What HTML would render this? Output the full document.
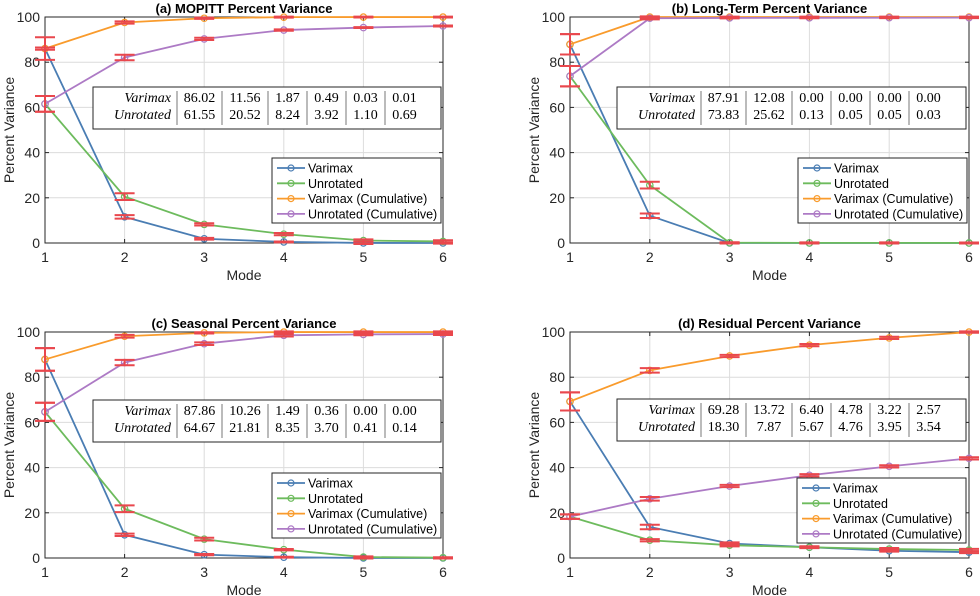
<!DOCTYPE html>
<html><head><meta charset="utf-8">
<style>
body{margin:0;background:#fff;}
svg{display:block;font-family:"Liberation Sans",sans-serif;}
</style></head>
<body>
<svg id="fig" width="980" height="596" viewBox="0 0 980 596"></svg>
<script>
const modes=[1,2,3,4,5,6];
const yTicks=[0,20,40,60,80,100];
const seriesNames=["Varimax","Unrotated","Varimax (Cumulative)","Unrotated (Cumulative)"];
const aVarimax=[86.02,11.56,1.87,0.49,0.03,0.01];
const aUnrot=[61.55,20.52,8.24,3.92,1.10,0.69];
const aErrV=[0.5,0.8,0.4,0.2,0.5,0.3];
const aErrU=[3.5,1.5,0.5,0.5,0.5,0.5];
const aErrVC=[5,0.5,0.3,0.2,0.2,0.2];
const aErrUC=[3.5,1.2,0.5,0.3,0.2,0.2];
const bVarimax=[87.91,12.08,0.00,0.00,0.00,0.00];
const bUnrot=[73.83,25.62,0.13,0.05,0.05,0.03];
const bErrV=[4.5,1,0.2,0.2,0.2,0.2];
const bErrU=[4.5,1.5,0.2,0.2,0.2,0.2];
const bErrVC=[4.5,0.3,0.2,0.2,0.2,0.2];
const bErrUC=[4.5,0.5,0.2,0.2,0.2,0.2];
const cVarimax=[87.86,10.26,1.49,0.36,0.00,0.00];
const cUnrot=[64.67,21.81,8.35,3.70,0.41,0.14];
const cErrV=[5,0.5,0.3,0.2,0.2,0.2];
const cErrU=[4,1.5,0.6,0.3,0.3,0.2];
const cErrVC=[5,0.6,0.3,0.3,0.3,0.3];
const cErrUC=[4,1.2,0.6,0.5,0.4,0.4];
const dVarimax=[69.28,13.72,6.40,4.78,3.22,2.57];
const dUnrot=[18.30,7.87,5.67,4.76,3.95,3.54];
const dErrV=[4,1,0.5,0.4,0.4,0.4];
const dErrU=[1,0.5,0.5,0.3,0.5,0.5];
const dErrVC=[4,1,0.5,0.5,0.5,0.3];
const dErrUC=[1,0.8,0.5,0.5,0.5,0.5];

const colors=["#4a7db3","#6dbb5d","#f99b2c","#ad7ac5"];
const ERR="#e9474d";
const NS="http://www.w3.org/2000/svg";
const svg=document.getElementById("fig");
function el(tag,attrs,parent){const e=document.createElementNS(NS,tag);for(const k in attrs)e.setAttribute(k,attrs[k]);(parent||svg).appendChild(e);return e;}
function cum(a){let s=0;return a.map(v=>s+=v);}

const panels=[
 {key:"a",title:"(a) MOPITT Percent Variance",x0:45,x1:443,y0:17,y1:243,v:aVarimax,u:aUnrot,ev:[aErrV,aErrU,aErrVC,aErrUC],leg:[272,158],tab:[93,87]},
 {key:"b",title:"(b) Long-Term Percent Variance",x0:570,x1:969,y0:17,y1:243,v:bVarimax,u:bUnrot,ev:[bErrV,bErrU,bErrVC,bErrUC],leg:[798,158],tab:[617,87]},
 {key:"c",title:"(c) Seasonal Percent Variance",x0:45,x1:443,y0:332,y1:558,v:cVarimax,u:cUnrot,ev:[cErrV,cErrU,cErrVC,cErrUC],leg:[272,473],tab:[93,400]},
 {key:"d",title:"(d) Residual Percent Variance",x0:570,x1:969,y0:332,y1:558,v:dVarimax,u:dUnrot,ev:[dErrV,dErrU,dErrVC,dErrUC],leg:[797,478],tab:[617,399]}
];

panels.forEach(p=>{
 const g=el("g",{});
 
 
 const sx=m=>p.x0+(m-1)/(5)*(p.x1-p.x0);
 const sy=v=>p.y1-v/100*(p.y1-p.y0);
 el("rect",{x:p.x0,y:p.y0,width:p.x1-p.x0,height:p.y1-p.y0,fill:"#fff"},g);
 modes.forEach(m=>{el("line",{x1:sx(m),x2:sx(m),y1:p.y0,y2:p.y1,stroke:"#dcdcdc","stroke-width":1},g);});
 yTicks.forEach(t=>{el("line",{x1:p.x0,x2:p.x1,y1:sy(t),y2:sy(t),stroke:"#dcdcdc","stroke-width":1},g);});
 el("rect",{x:p.x0,y:p.y0,width:p.x1-p.x0,height:p.y1-p.y0,fill:"none",stroke:"#262626","stroke-width":1},g);
 modes.forEach(m=>{
  el("line",{x1:sx(m),x2:sx(m),y1:p.y1,y2:p.y1-4,stroke:"#262626"},g);
  el("line",{x1:sx(m),x2:sx(m),y1:p.y0,y2:p.y0+4,stroke:"#262626"},g);
  const t=el("text",{x:sx(m),y:p.y1+19,"text-anchor":"middle","font-size":14,fill:"#262626"},g);t.textContent=m;
  
  
 });
 yTicks.forEach(v=>{
  el("line",{x1:p.x0,x2:p.x0+4,y1:sy(v),y2:sy(v),stroke:"#262626"},g);
  el("line",{x1:p.x1,x2:p.x1-4,y1:sy(v),y2:sy(v),stroke:"#262626"},g);
  const t=el("text",{x:p.x0-5,y:sy(v)+5,"text-anchor":"end","font-size":14,fill:"#262626"},g);t.textContent=v;
  
  
 });
 const tt=el("text",{x:(p.x0+p.x1)/2,y:p.y0-4,"text-anchor":"middle","font-size":13,"font-weight":"bold",fill:"#000"},g);tt.textContent=p.title;
 
 
 const xl=el("text",{x:(p.x0+p.x1)/2,y:p.y1+37,"text-anchor":"middle","font-size":14,fill:"#262626"},g);xl.textContent="Mode";
 
 
 const yx=p.x0-31, yy=(p.y0+p.y1)/2;
 const yl=el("text",{x:yx,y:yy,"text-anchor":"middle","font-size":14,fill:"#262626",transform:`rotate(-90 ${yx} ${yy})`},g);yl.textContent="Percent Variance";
 
 

 const series=[p.v,p.u,cum(p.v),cum(p.u)];
 series.forEach((s,i)=>{
  const pts=s.map((v,j)=>sx(modes[j])+","+sy(Math.min(v,100))).join(" ");
  const pl=el("polyline",{points:pts,fill:"none",stroke:colors[i],"stroke-width":1.8},g);
  
  
  s.forEach((v,j)=>{
   const c=el("circle",{cx:sx(modes[j]),cy:sy(Math.min(v,100)),r:3.2,fill:"none",stroke:colors[i],"stroke-width":1.2},g);
   
   
  });
 });
 series.forEach((s,i)=>{
  s.forEach((v,j)=>{
   const e=p.ev[i][j];const x=sx(modes[j]);const vv=Math.min(v,100);
   const eg=el("g",{stroke:ERR,"stroke-width":2},g);
   
   
   el("line",{x1:x,x2:x,y1:sy(vv-e),y2:sy(vv+e)},eg);
   el("line",{x1:x-10,x2:x+10,y1:sy(vv-e),y2:sy(vv-e)},eg);
   el("line",{x1:x-10,x2:x+10,y1:sy(vv+e),y2:sy(vv+e)},eg);
  });
 });
 const [tx,ty]=p.tab;const tw=p.x1-p.x0-50, th=42;
 const tg=el("g",{},g);
 
 
 el("rect",{x:tx,y:ty,width:tw,height:th,fill:"#fff",stroke:"#262626","stroke-width":1},tg);
 const colX=[tx+84,tx+129,tx+175,tx+214,tx+253,tx+292];
 const colW=[45,46,39,39,39,39];
 colX.forEach((cx,k)=>{el("line",{x1:cx,x2:cx,y1:ty+4,y2:ty+th-4,stroke:"#555","stroke-width":0.8},tg);});
 [["Varimax",p.v],["Unrotated",p.u]].forEach((row,r)=>{
  const yy=ty+15+r*17;
  const n=el("text",{x:tx+78,y:yy,"text-anchor":"end","font-size":14,"font-style":"italic","font-family":"Liberation Serif,serif",fill:"#000"},tg);n.textContent=row[0];
  row[1].forEach((v,k)=>{
   const t=el("text",{x:colX[k]+colW[k]/2,y:yy,"text-anchor":"middle","font-size":14,"font-family":"Liberation Serif,serif",fill:"#000"},tg);t.textContent=v.toFixed(2);
  });
 });
 const [lx,ly]=p.leg;
 const lg=el("g",{},g);
 
 
 el("rect",{x:lx,y:ly,width:169,height:65,fill:"#fff",stroke:"#262626","stroke-width":1},lg);
 seriesNames.forEach((n,i)=>{
  const yy=ly+10+i*15.3;
  const en=el("g",{},lg);
  
  
  el("line",{x1:lx+5,x2:lx+33,y1:yy,y2:yy,stroke:colors[i],"stroke-width":1.8},en);
  el("circle",{cx:lx+19,cy:yy,r:3,fill:"none",stroke:colors[i],"stroke-width":1.2},en);
  const t=el("text",{x:lx+36,y:yy+4.5,"font-size":12.5,fill:"#000"},en);t.textContent=n;
 });
});
</script>
</body></html>
